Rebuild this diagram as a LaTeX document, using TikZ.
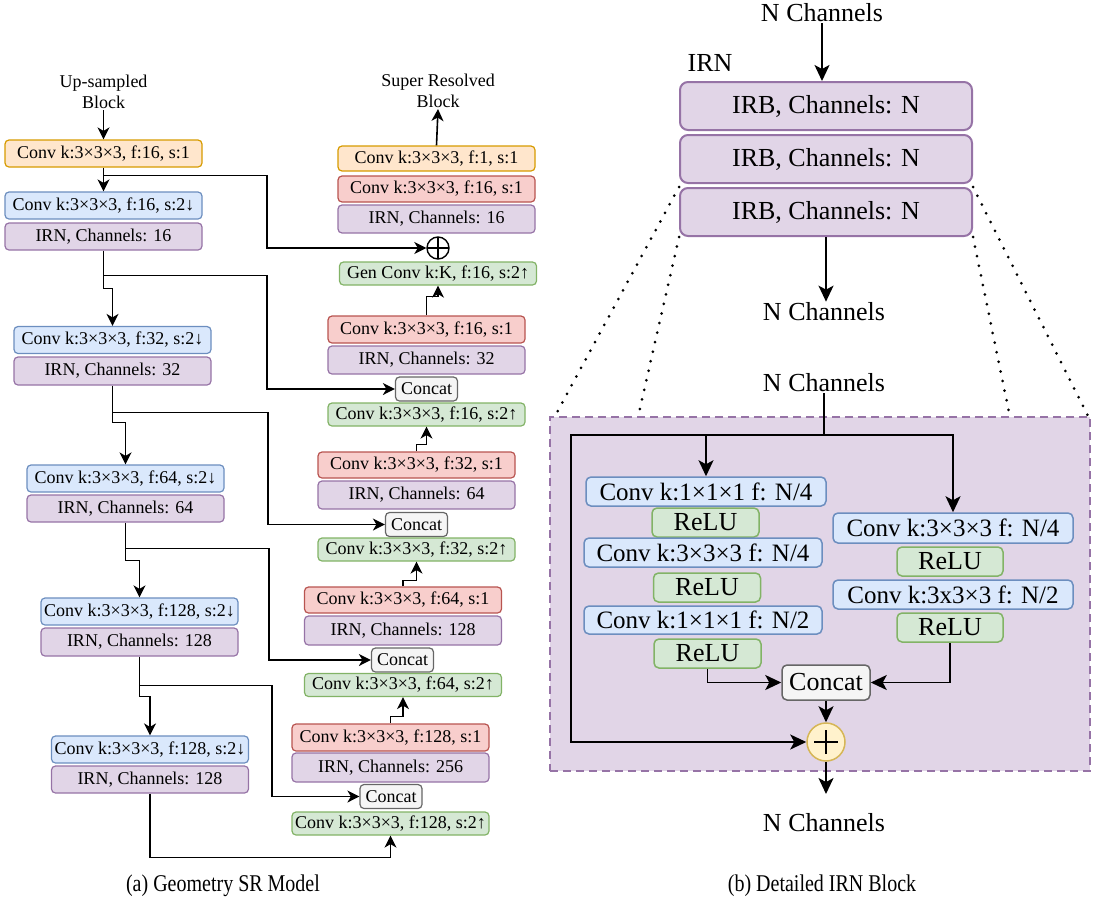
\documentclass[tikz,border=0pt]{standalone}
\usepackage{fontspec}
\setmainfont{Liberation Serif}
\usetikzlibrary{arrows.meta,calc}

% draw.io palette
\definecolor{orF}{HTML}{FFE6CC}\definecolor{orD}{HTML}{D79B00}
\definecolor{blF}{HTML}{DAE8FC}\definecolor{blD}{HTML}{6C8EBF}
\definecolor{puF}{HTML}{E1D5E7}\definecolor{puD}{HTML}{9673A6}
\definecolor{rdF}{HTML}{F8CECC}\definecolor{rdD}{HTML}{B85450}
\definecolor{gnF}{HTML}{D5E8D4}\definecolor{gnD}{HTML}{82B366}
\definecolor{gyF}{HTML}{F5F5F5}\definecolor{gyD}{HTML}{666666}
\definecolor{ywF}{HTML}{FFF2CC}\definecolor{ywD}{HTML}{D6B656}

\tikzset{
  fontL/.style={font=\fontsize{18}{21}\selectfont},
  fontR/.style={font=\fontsize{26}{30}\selectfont},
  blk/.style={draw, rounded corners=4pt, line width=1.2pt, inner sep=0pt,
    minimum width=197pt, minimum height=27pt, fontL},
  boxO/.style={blk, fill=orF, draw=orD},
  boxB/.style={blk, fill=blF, draw=blD},
  boxP/.style={blk, fill=puF, draw=puD},
  boxR/.style={blk, fill=rdF, draw=rdD},
  boxG/.style={blk, fill=gnF, draw=gnD, minimum height=23pt},
  boxC/.style={blk, fill=gyF, draw=gyD, minimum width=62pt, minimum height=24pt},
  lblL/.style={align=center, inner sep=1pt, fontL},
  lblR/.style={align=center, inner sep=1pt, fontR},
  capt/.style={inner sep=0pt, font=\fontsize{20}{24}\selectfont},
  oplus/.style={circle, draw, fill=white, line width=1.4pt, minimum size=22pt, inner sep=0pt,
    path picture={\draw[line width=1.4pt]
      (path picture bounding box.north) -- (path picture bounding box.south)
      (path picture bounding box.west) -- (path picture bounding box.east);}},
  arrL/.style={-{Stealth[length=12pt,width=12pt,inset=3.5pt]}, line width=1.6pt},
  lnR/.style={line width=1.8pt},
  arrR/.style={-{Stealth[length=16pt,width=15pt,inset=4pt]}, line width=1.8pt},
  irb/.style={draw=puD, fill=puF, rounded corners=8pt, line width=2pt, inner sep=0pt,
    minimum width=292pt, minimum height=48pt, fontR},
  bR/.style={draw, rounded corners=5pt, line width=1.5pt, inner sep=0pt,
    minimum height=29pt, fontR},
  cvR/.style={bR, fill=blF, draw=blD, minimum width=240pt, font=\fontsize{25}{29}\selectfont},
  reluR/.style={bR, fill=gnF, draw=gnD, minimum width=107pt},
  ccR/.style={bR, fill=gyF, draw=gyD, minimum width=88pt, minimum height=35pt},
  sumR/.style={circle, draw=ywD, fill=ywF, line width=1.5pt, minimum size=38pt, inner sep=0pt,
    path picture={\draw[line width=2pt, black]
      ([xshift=-12pt]path picture bounding box.center) -- ([xshift=12pt]path picture bounding box.center)
      ([yshift=-12pt]path picture bounding box.center) -- ([yshift=12pt]path picture bounding box.center);}},
  dbox/.style={draw=puD, fill=puF, line width=2pt, dash pattern=on 8pt off 5pt, inner sep=0pt},
  dots/.style={line width=3pt, line cap=round, dash pattern=on 0pt off 9.8pt},
}

\begin{document}
\begin{tikzpicture}[x=1pt,y=-1pt]
\useasboundingbox (0,0) rectangle (1094,905);

% ---------------- (a) encoder column ----------------
\node[lblL] (inp) at (103.5,92) {Up-sampled\\Block};
\node[boxO] (e0) at (103.5,153.5) {Conv k:3×3×3, f:16, s:1};
\node[boxB] (e1) at (103.5,205.5) {Conv k:3×3×3, f:16, s:2↓};
\node[boxP] (e2) at (103.5,236.5) {IRN, Channels: 16};
\node[boxB] (e3) at (112.5,340) {Conv k:3×3×3, f:32, s:2↓};
\node[boxP,minimum height=28pt] (e4) at (112.5,371) {IRN, Channels: 32};
\node[boxB] (e5) at (125.5,478.5) {Conv k:3×3×3, f:64, s:2↓};
\node[boxP] (e6) at (125.5,508.5) {IRN, Channels: 64};
\node[boxB] (e7) at (139.5,611.5) {Conv k:3×3×3, f:128, s:2↓};
\node[boxP,minimum height=28pt] (e8) at (139.5,642) {IRN, Channels: 128};
\node[boxB] (e9) at (150,749.5) {Conv k:3×3×3, f:128, s:2↓};
\node[boxP] (e10) at (150,779.5) {IRN, Channels: 128};

% ---------------- (a) decoder column ----------------
\node[lblL] (out) at (438,91) {Super Resolved\\Block};
\node[boxO,minimum height=25pt] (d0) at (436.5,158.5) {Conv k:3×3×3, f:1, s:1};
\node[boxR,minimum height=26pt] (d1) at (436.5,189) {Conv k:3×3×3, f:16, s:1};
\node[boxP,minimum height=28pt] (d2) at (436.5,219) {IRN, Channels: 16};
\node[oplus] (add) at (438,248) {};
\node[boxG] (d3) at (438,273.5) {Gen Conv k:K, f:16, s:2↑};
\node[boxR] (d4) at (426.5,329.5) {Conv k:3×3×3, f:16, s:1};
\node[boxP,minimum height=28pt] (d5) at (426.5,360) {IRN, Channels: 32};
\node[boxC] (c1) at (426.5,389) {Concat};
\node[boxG] (d6) at (426.5,414.5) {Conv k:3×3×3, f:16, s:2↑};
\node[boxR,minimum height=26pt] (d7) at (416.5,465) {Conv k:3×3×3, f:32, s:1};
\node[boxP,minimum height=28pt] (d8) at (416.5,495) {IRN, Channels: 64};
\node[boxC] (c2) at (416.5,524.5) {Concat};
\node[boxG] (d9) at (416.5,549.5) {Conv k:3×3×3, f:32, s:2↑};
\node[boxR,minimum height=26pt] (d10) at (403,600) {Conv k:3×3×3, f:64, s:1};
\node[boxP,minimum height=29pt] (d11) at (403,630.5) {IRN, Channels: 128};
\node[boxC] (c3) at (402.5,660) {Concat};
\node[boxG] (d12) at (403,685) {Conv k:3×3×3, f:64, s:2↑};
\node[boxR] (d13) at (390.5,737.5) {Conv k:3×3×3, f:128, s:1};
\node[boxP,minimum height=29pt] (d14) at (390.5,767.5) {IRN, Channels: 256};
\node[boxC] (c4) at (391,796.5) {Concat};
\node[boxG] (d15) at (390.5,823.5) {Conv k:3×3×3, f:128, s:2↑};

% main path through the encoder
\draw[arrL] (inp.south) -- (e0.north);
\draw[arrL] (e0.south) -- (e1.north);
\draw[arrL] (e2.south) -- ++(0,38) -| (e3.north);
\draw[arrL] (e4.south) -- ++(0,37) -| (e5.north);
\draw[arrL] (e6.south) -- ++(0,38) -| (e7.north);
\draw[arrL] (e8.south) -- ++(0,40) -| (e9.north);
\draw[arrL] (e10.south) -- ++(0,64) -| (d15.south);

% skip connections
\coordinate (s1) at (267,248);
\coordinate (s2) at (267,389);
\coordinate (s3) at (268,524.5);
\coordinate (s4) at (269,660);
\coordinate (s5) at (272,796.5);
\draw[arrL] (e0.south) ++(0,8) -| (s1) -- (add.west);
\draw[arrL] (e2.south) ++(0,25) -| (s2) -- (c1.west);
\draw[arrL] (e4.south) ++(0,27) -| (s3) -- (c2.west);
\draw[arrL] (e6.south) ++(0,26) -| (s4) -- (c3.west);
\draw[arrL] (e8.south) ++(0,29) -| (s5) -- (c4.west);

% upward path through the decoder
\draw[arrL] (d4.north) -- ++(0,-19) -| (d3.south);
\draw[arrL] (d7.north) -- ++(0,-7) -| (d6.south);
\draw[arrL] (d10.north) -- ++(0,-6) -| (d9.south);
\draw[arrL] (d13.north) -- ++(0,-7) -| (d12.south);
\draw[arrL] (d0.north) -- (out.south);

% ---------------- (b) IRN overview ----------------
\node[lblR] (nin) at (822,13) {N Channels};
\node[lblR] (irnlbl) at (710,63) {IRN};
\node[irb] (r1) at (826,106) {IRB, Channels: N};
\node[irb] (r2) at (826,159) {IRB, Channels: N};
\node[irb] (r3) at (826,212) {IRB, Channels: N};
\node[lblR] (nmid) at (824,312) {N Channels};
\draw[arrR] (nin.south) -- (nin.south |- r1.north);
\draw[arrR] (r3.south) -- (r3.south |- nmid.north);

% ---------------- (b) residual block detail ----------------
\node[dbox, minimum width=540pt, minimum height=354pt] (blk) at (820,594) {};
\coordinate (zl1) at (555,416);
\coordinate (zl2) at (638,417);
\coordinate (zr1) at (1088,416);
\coordinate (zr2) at (1010,417);
\draw[dots] (r3.north west) -- (zl1);
\draw[dots] (r3.south west) -- (zl2);
\draw[dots] (r3.north east) -- (zr1);
\draw[dots] (r3.south east) -- (zr2);

\node[lblR] (nblk) at (824,383) {N Channels};

\node[cvR] (ca1) at (706,491.5) {Conv k:1×1×1 f: N/4};
\node[reluR] (ra1) at (705.5,522.5) {ReLU};
\node[cvR, minimum width=238pt] (ca2) at (703,552.5) {Conv k:3×3×3 f: N/4};
\node[reluR] (ra2) at (707,587.5) {ReLU};
\node[cvR, minimum width=238pt, minimum height=28pt] (ca3) at (703,620) {Conv k:1×1×1 f: N/2};
\node[reluR] (ra3) at (707.5,653.5) {ReLU};
\node[cvR, minimum height=30pt] (cb1) at (953,528) {Conv k:3×3×3 f: N/4};
\node[reluR, minimum width=106pt] (rb1) at (950,561.5) {ReLU};
\node[cvR] (cb2) at (953,594.5) {Conv k:3x3×3 f: N/2};
\node[reluR, minimum width=106pt] (rb2) at (950,627.5) {ReLU};
\node[ccR] (cc) at (826,682.5) {Concat};
\node[sumR] (sum) at (826,742) {};
\node[lblR] (nout) at (824,823) {N Channels};

\coordinate (t0) at (824,435);
\coordinate (tl) at (571,435);
\coordinate (oe) at (826,794);
\draw[lnR] (nblk.south) -- (t0);
\draw[arrR] (t0) -- (tl) |- (sum.west);
\draw[arrR] (t0) -| (cb1.north);
\draw[arrR] (t0 -| ca1.north) -- (ca1.north);
\draw[arrR] (ra3.south) |- (cc.west);
\draw[arrR] (rb2.south) |- (cc.east);
\draw[arrR] (cc.south) -- (sum.north);
\draw[arrR] (sum.south) -- (oe);

% ---------------- captions ----------------
\node[capt] (capa) at (223,886) {\scalebox{1}[1.2]{(a) Geometry SR Model}};
\node[capt] (capb) at (822,886) {\scalebox{1}[1.2]{(b) Detailed IRN Block}};
\end{tikzpicture}
\end{document}
